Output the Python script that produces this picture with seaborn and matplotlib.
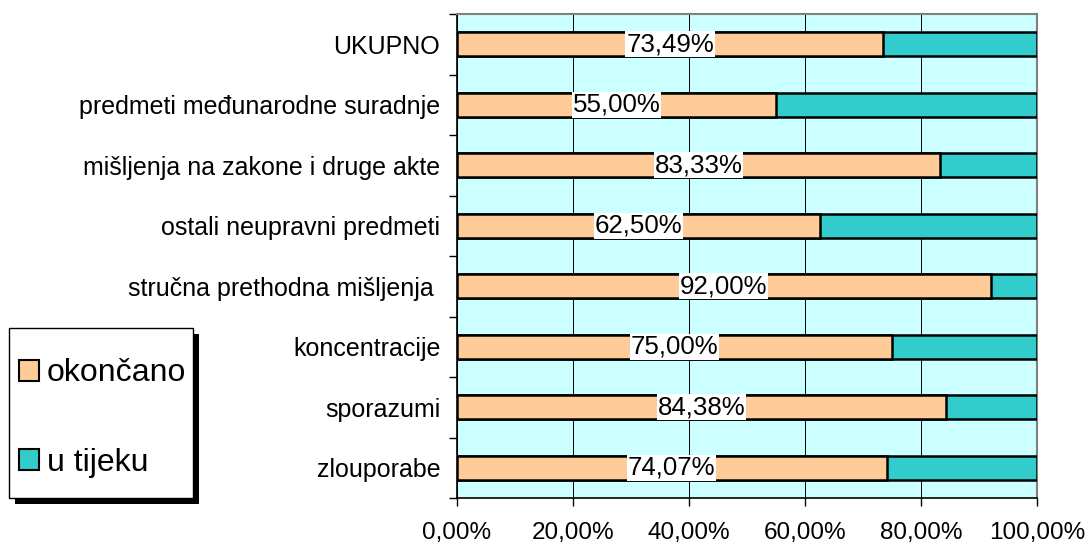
import numpy as np
import pandas as pd
import matplotlib
matplotlib.use("Agg")
import matplotlib.pyplot as plt
import seaborn as sns
from matplotlib.patches import Rectangle, Patch
from matplotlib.ticker import FixedLocator, FuncFormatter

# data, top to bottom
categories = ["UKUPNO", "predmeti međunarodne suradnje", "mišljenja na zakone i druge akte",
              "ostali neupravni predmeti", "stručna prethodna mišljenja ", "koncentracije",
              "sporazumi", "zlouporabe"]
okoncano = [73.49, 55.00, 83.33, 62.50, 92.00, 75.00, 84.38, 74.07]
u_tijeku = [100 - v for v in okoncano]
series_names = ["okončano", "u tijeku"]
x_ticks = [0, 20, 40, 60, 80, 100]

orange = "#FFCC99"
teal = "#33CCCC"

df = pd.DataFrame({"kategorija": categories, "okoncano": okoncano,
                   "ukupno": [a + b for a, b in zip(okoncano, u_tijeku)]})

sns.set_style("white")
plt.rcParams["font.family"] = ["Liberation Sans", "DejaVu Sans"]
plt.rcParams["text.color"] = "black"
plt.rcParams["xtick.color"] = "black"
plt.rcParams["ytick.color"] = "black"

fig = plt.figure(figsize=(10.9, 5.46), dpi=100)
ax = fig.add_axes([457 / 1090, 48 / 546, 580 / 1090, 484 / 546])
ax.set_facecolor("#CCFFFF")

sns.barplot(data=df, y="kategorija", x="ukupno", color=teal, orient="h", width=0.4,
            edgecolor="black", linewidth=1.8, saturation=1, ax=ax, zorder=3)
sns.barplot(data=df, y="kategorija", x="okoncano", color=orange, orient="h", width=0.4,
            edgecolor="black", linewidth=1.8, saturation=1, ax=ax, zorder=4)

# data labels in the middle of the orange segment
for i, v in enumerate(okoncano):
    ax.text(v / 2, i, f"{v:.2f}%".replace(".", ","), ha="center", va="center", fontsize=18.6,
            zorder=6, bbox=dict(facecolor="white", edgecolor="none", pad=0.6))

ax.set_xlim(0, 100)
ax.set_ylim(len(categories) - 0.5, -0.5)
ax.set_xlabel("")
ax.set_ylabel("")
ax.xaxis.set_major_locator(FixedLocator(x_ticks))
ax.xaxis.set_major_formatter(FuncFormatter(lambda v, p: f"{v:.2f}%".replace(".", ",")))
ax.grid(axis="x", color="black", linewidth=0.7, zorder=1)
ax.set_axisbelow(True)

ax.yaxis.set_minor_locator(FixedLocator(np.arange(-0.5, len(categories), 1.0)))
ax.tick_params(axis="y", which="major", length=0, pad=12, labelsize=18)
ax.tick_params(axis="y", which="minor", length=6, width=1, color="black", left=True)
ax.tick_params(axis="x", which="major", length=6, width=1, color="black", bottom=True,
               labelsize=17.5, pad=11)

for side in ["left", "bottom"]:
    ax.spines[side].set_color("black")
    ax.spines[side].set_linewidth(1.2)
for side in ["top", "right"]:
    ax.spines[side].set_color("#808080")
    ax.spines[side].set_linewidth(1.5)
    ax.spines[side].set_visible(True)

# legend box with hard black shadow
fig.patches.append(Rectangle((15 / 1090, (546 - 504) / 546), 184 / 1090, 170 / 546,
                             transform=fig.transFigure, facecolor="black", edgecolor="none",
                             zorder=0))
fig.patches.append(Rectangle((9 / 1090, (546 - 498) / 546), 184 / 1090, 170 / 546,
                             transform=fig.transFigure, facecolor="white", edgecolor="black",
                             linewidth=1, zorder=1))
handles = [Patch(facecolor=orange, edgecolor="black", linewidth=1.5),
           Patch(facecolor=teal, edgecolor="black", linewidth=1.5)]
fig.legend(handles, series_names, loc="center left", bbox_to_anchor=(6 / 1090, (546 - 418) / 546),
           frameon=False, fontsize=23, handlelength=0.62, handleheight=0.62,
           handletextpad=0.25, labelspacing=1.85, borderaxespad=0)

fig.savefig("out.png", dpi=100)
